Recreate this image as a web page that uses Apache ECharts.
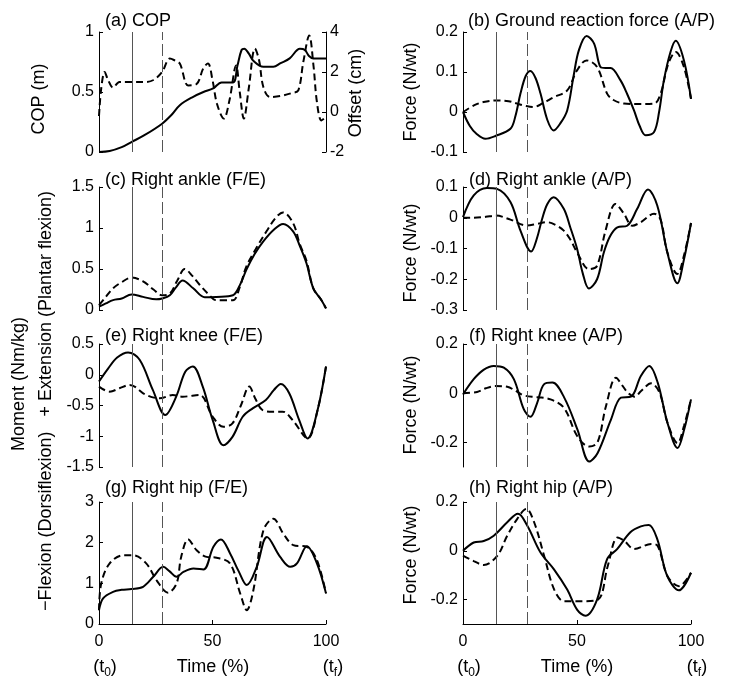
<!DOCTYPE html>
<html><head><meta charset="utf-8">
<script src="https://cdn.jsdelivr.net/npm/echarts@6/dist/echarts.min.js"></script>
<style>html,body{margin:0;padding:0;background:#fff}#c{width:729px;height:692px}</style>
</head><body><div id="c"></div>
<script>
// ---------- DATA ----------
const panelTitles = ['(a) COP','(b) Ground reaction force (A/P)','(c) Right ankle (F/E)','(d) Right ankle (A/P)',
  '(e) Right knee (F/E)','(f) Right knee (A/P)','(g) Right hip (F/E)','(h) Right hip (A/P)'];
const xTicks = [0, 50, 100];
const eventSolid = 14.5, eventDashed = 28;

const aSolidT = [0,4.7,10,14.3,20,27.8,32,35.6,41.5,46,50.3,54,59,61,62.8,64,66,68,72.4,76.8,80,84,88.5,90.7,92.5,94.4,100];
const aSolidY = [0,0.008,0.04,0.083,0.14,0.236,0.31,0.39,0.46,0.5,0.53,0.58,0.58,0.72,0.85,0.86,0.82,0.76,0.71,0.71,0.74,0.78,0.86,0.85,0.8,0.78,0.78];
const aDashT = [0,1,2.5,4,6.2,9,14,20,24,27.8,31.2,33,35.6,39.3,43,46,48,50,52,55,57.5,60.4,62,63.8,66,68.7,70.5,72.4,75.3,80,85,87.8,90,92.6,94.5,96,98,100];
const aDashY = [-0.2,1.2,2.0,1.6,1.22,1.5,1.5,1.5,1.6,2.0,2.67,2.6,2.42,1.33,1.4,2.2,2.42,1.6,0.4,-0.33,0.6,2.33,1.0,-0.33,1.2,3.17,2.6,1.25,0.75,0.8,0.95,1.08,2.5,3.83,2.3,0.5,-0.42,-0.25];

const bSolidT = [0,3,6,9.8,14.2,20.8,23,25.2,27.5,29.6,31.8,34,37,39.8,42.5,45.7,48.5,50.8,54.2,57.5,60.3,62.5,64.7,69.1,72,75,77.5,80.1,83.8,86,88.1,91,93.3,96.9,100];
const bSolidY = [0,-0.035,-0.055,-0.067,-0.06,-0.042,-0.01,0.046,0.09,0.1025,0.085,0.046,-0.02,-0.046,-0.03,0.004,0.09,0.154,0.19,0.171,0.1125,0.11,0.11,0.079,0.045,0.004,-0.035,-0.058,-0.05,0.0,0.079,0.15,0.178,0.129,0.033];
const bDashT = [0,5,9,15,20,23.7,27,31,35,39.8,45.7,50,54.2,58.8,63.2,66,70.6,76,83.8,86.7,90,93.3,96.9,100];
const bDashY = [0,0.017,0.025,0.029,0.027,0.021,0.016,0.0125,0.022,0.037,0.054,0.104,0.129,0.1125,0.046,0.03,0.021,0.02,0.021,0.046,0.12,0.15,0.1125,0.033];

const cSolidT = [0,3,6.2,10,14.3,19.4,25.2,27.8,31.2,34,36.8,41.5,46.6,51.7,59,62,64.9,68.5,72.3,77,81.1,85.5,88.5,91.4,94.4,98,100];
const cSolidY = [0.04,0.08,0.12,0.14,0.19,0.16,0.13,0.14,0.18,0.28,0.36,0.265,0.155,0.16,0.18,0.3,0.49,0.68,0.835,0.98,1.05,0.96,0.78,0.57,0.265,0.12,0.02];
const cDashT = [0,3,6.2,10,14.3,19.4,24,27.8,31.2,34.5,37.8,41,44.4,48,51.7,59,62,64.9,69,73.8,78,81.1,85.5,88.5,91.4,94.4,98,100];
const cDashY = [0.06,0.16,0.265,0.34,0.395,0.35,0.25,0.18,0.2,0.36,0.5,0.42,0.305,0.2,0.12,0.12,0.28,0.53,0.74,0.96,1.13,1.19,1.06,0.8,0.6,0.265,0.12,0.02];

const dSolidT = [0,4.7,10.5,14.9,20.8,25.2,29.9,32.3,34.7,37,39.8,44.2,47,50,52.5,55.2,58.8,61.8,64.5,67.7,72,76.4,81.1,85.2,89.6,94,96.9,100];
const dSolidY = [0.002,0.073,0.097,0.094,0.051,-0.042,-0.11,-0.07,-0.004,0.045,0.067,0.029,-0.03,-0.1,-0.18,-0.23,-0.2,-0.112,-0.06,-0.031,-0.026,0.029,0.092,0.04,-0.112,-0.213,-0.136,-0.017];
const dDashT = [0,4.7,10,14.3,20.8,27.7,32.5,36.9,41,44.2,47,50,55.2,58.8,62.5,66.9,70.6,74.2,77.9,83.8,86.7,89.6,94,97,100];
const dDashY = [0,0,0.003,0.007,-0.006,-0.025,-0.02,-0.0145,-0.025,-0.042,-0.07,-0.112,-0.167,-0.156,-0.042,0.045,0.013,-0.026,-0.015,0.013,-0.007,-0.112,-0.183,-0.12,-0.017];

const eSolidT = [0,4,8,12.8,17.9,23.7,29.2,34,38,41.3,45.7,50.1,54.8,58.8,63.3,67.7,73.5,77,80.1,83.8,88.2,91.9,96.3,100];
const eSolidY = [-0.11,0.1,0.28,0.363,0.243,-0.247,-0.655,-0.356,0.05,0.134,-0.193,-0.737,-1.146,-1.01,-0.683,-0.546,-0.41,-0.25,-0.149,-0.3,-0.737,-1.036,-0.573,0.134];
const eDashT = [0,4.7,9,13.5,20.8,26.7,32.5,36.9,44.2,50.1,54.8,58.8,62.5,66.2,69,72,76.5,80.9,85.3,91.9,96.3,100];
const eDashY = [-0.193,-0.275,-0.22,-0.165,-0.33,-0.383,-0.33,-0.356,-0.33,-0.683,-0.846,-0.79,-0.5,-0.193,-0.4,-0.573,-0.6,-0.6,-0.737,-1.036,-0.573,0.134];

const fSolidT = [0,4.7,9,13.5,17.9,22.3,26.7,29.6,32.5,35.5,39.2,44.4,50.2,55.4,59,64.9,69.3,73.7,78,81.7,85.4,89.7,94.1,97,100];
const fSolidY = [-0.005,0.057,0.095,0.111,0.104,0.057,-0.066,-0.096,-0.04,0.036,0.043,-0.018,-0.148,-0.278,-0.244,-0.107,-0.018,-0.014,0.07,0.111,0.043,-0.121,-0.223,-0.148,-0.025];
const fDashT = [0,6.2,10,14.2,19.4,23,26.7,32.5,38.4,44.3,50.2,55.4,59,62.7,67.1,70,72.3,75.3,78.1,82.5,86.2,89.7,94.1,97,100];
const fDashY = [0,0.005,0.02,0.029,0.026,0.01,-0.009,-0.016,-0.025,-0.06,-0.176,-0.217,-0.2,-0.053,0.063,0.03,0.002,-0.014,0.009,0.04,0.002,-0.121,-0.203,-0.13,-0.025];

const gSolidT = [0,1.8,6.2,10,14.3,19.4,23.9,28.3,31,34.2,37.2,41.6,46,50.4,53.7,57.8,61.5,65.1,69.5,74,79.8,84.3,87.2,91.6,96,100];
const gSolidY = [0.34,0.63,0.79,0.84,0.86,0.915,1.16,1.405,1.3,1.16,1.28,1.365,1.34,1.9,2.08,1.73,1.3,0.957,1.405,2.14,1.65,1.405,1.49,1.91,1.49,0.753];
const gDashT = [0,1,4.7,10.6,15,20.8,25.3,30.4,34.2,36.2,39.3,43,47.4,51.8,57.7,62.2,65.1,68,72.4,76.8,81.2,85.6,91.5,96,100];
const gDashY = [0.34,1.0,1.49,1.69,1.69,1.49,1.08,0.77,1.0,1.65,2.08,1.815,1.65,1.63,1.49,0.75,0.34,0.83,2.3,2.59,2.22,1.94,1.9,1.57,0.753];

const hSolidT = [0,4.7,9.1,13.5,19.4,24.1,28.2,34,39.9,45.7,50.1,53.7,58.8,63.2,67.6,73.4,78,81.5,85.2,89.6,94.7,100];
const hSolidY = [0,0.034,0.04,0.062,0.117,0.152,0.103,-0.007,-0.076,-0.159,-0.242,-0.266,-0.2,-0.034,0.007,0.076,0.1,0.106,0.048,-0.104,-0.162,-0.09];
const hDashT = [0,4.7,9.1,15,19.4,23.8,27.8,31.2,35.6,40,44.4,51.8,59.2,63.5,67.8,70.7,75.1,82.5,85.4,89.7,94.7,100];
const hDashY = [-0.02,-0.042,-0.058,-0.021,0.062,0.131,0.172,0.117,-0.021,-0.159,-0.207,-0.207,-0.2,-0.062,0.055,0.041,0.007,0.028,0.02,-0.104,-0.145,-0.09];

// y axis ranges [min, max, interval, customTicks]
const yRanges = [
  [0, 1, 0.5, null], [-0.1, 0.2, 0.1, null],
  [0, 1.5, 0.5, null], [-0.3, 0.1, 0.1, null],
  [-1.5, 0.5, 0.5, null], [-0.3, 0.2, 0.1, [-0.2, 0, 0.2]],
  [0, 3, 1, null], [-0.3, 0.2, 0.1, [-0.2, 0, 0.2]]
];
const offsetRange = [-2, 4, 2];

// ---------- LAYOUT ----------
const FONT = '"Liberation Sans", Arial, Helvetica, sans-serif';
const colLeft = [99, 463], colWidth = [227, 228];
const rowTop = [32, 187, 344, 502], rowHeight = [120, 123, 123, 122];

const pairs = (t, y) => t.map((v, i) => [v, y[i]]);
const panelData = [
  [pairs(aSolidT, aSolidY), pairs(aDashT, aDashY)],
  [pairs(bSolidT, bSolidY), pairs(bDashT, bDashY)],
  [pairs(cSolidT, cSolidY), pairs(cDashT, cDashY)],
  [pairs(dSolidT, dSolidY), pairs(dDashT, dDashY)],
  [pairs(eSolidT, eSolidY), pairs(eDashT, eDashY)],
  [pairs(fSolidT, fSolidY), pairs(fDashT, fDashY)],
  [pairs(gSolidT, gSolidY), pairs(gDashT, gDashY)],
  [pairs(hSolidT, hSolidY), pairs(hDashT, hDashY)]
];

const grids = [], xAxes = [], yAxes = [], series = [];
const axisLineStyle = () => ({show: true, onZero: false, lineStyle: {color: '#000', width: 1}});
for (let p = 0; p < 8; p++) {
  const col = p % 2, row = Math.floor(p / 2);
  grids.push({left: colLeft[col], top: rowTop[row], width: colWidth[col], height: rowHeight[row], containLabel: false});
  const bottom = row === 3;
  xAxes.push({
    type: 'value', gridIndex: p, min: 0, max: 100, interval: 50, show: bottom,
    axisLine: axisLineStyle(), splitLine: {show: false},
    axisTick: {show: true, inside: true, length: 4, lineStyle: {color: '#000'}},
    axisLabel: {show: true, fontSize: 16, color: '#000', fontFamily: FONT, margin: 10}
  });
  const r = yRanges[p];
  const ya = {
    type: 'value', gridIndex: p, min: r[0], max: r[1], interval: r[2],
    axisLine: axisLineStyle(), splitLine: {show: false},
    axisTick: {show: true, inside: true, length: 4, lineStyle: {color: '#000'}},
    axisLabel: {fontSize: 16, color: '#000', fontFamily: FONT, margin: 5}
  };
  if (r[3]) {
    ya.axisLabel.customValues = r[3];
    ya.axisTick.customValues = r[3];
  }
  yAxes.push(ya);
}
// offset axis for panel (a)
yAxes.push({
  type: 'value', gridIndex: 0, position: 'right', min: offsetRange[0], max: offsetRange[1], interval: offsetRange[2],
  axisLine: axisLineStyle(), splitLine: {show: false},
  axisTick: {show: true, inside: true, length: 4, lineStyle: {color: '#000'}},
  axisLabel: {fontSize: 16, color: '#000', fontFamily: FONT, margin: 4}
});

for (let p = 0; p < 8; p++) {
  series.push({
    type: 'line', xAxisIndex: p, yAxisIndex: p, data: panelData[p][0],
    smooth: 0.35, symbol: 'none', lineStyle: {color: '#000', width: 2},
    markLine: {
      silent: true, symbol: 'none', label: {show: false},
      data: [
        {xAxis: eventSolid, lineStyle: {color: '#555', width: 1, type: 'solid'}},
        {xAxis: eventDashed, lineStyle: {color: '#555', width: 1, type: [12, 4]}}
      ]
    }
  });
  series.push({
    type: 'line', xAxisIndex: p, yAxisIndex: p === 0 ? 8 : p, data: panelData[p][1],
    smooth: 0.35, symbol: 'none', lineStyle: {color: '#000', width: 2, type: [7, 4]}
  });
}

// ---------- TEXT ----------
const graphic = [];
const txt = (x, y, text, opts = {}) => graphic.push({
  type: 'text', x, y, rotation: opts.rot || 0,
  style: Object.assign({text, fill: '#000', font: (opts.size || 18) + 'px ' + FONT,
    align: opts.align || 'center', verticalAlign: 'middle'}, opts.style || {})
});
const titlePos = [[105, 21], [468, 21], [105, 180], [469, 180], [105, 336], [469, 336], [105, 488], [469, 488]];
panelTitles.forEach((t, i) => txt(titlePos[i][0], titlePos[i][1], t, {align: 'left'}));

const R = Math.PI / 2;
txt(39, 99, 'COP (m)', {rot: R});
txt(356, 93, 'Offset (cm)', {rot: R});
txt(411, 92, 'Force (N/wt)', {rot: R});
txt(411, 253, 'Force (N/wt)', {rot: R});
txt(411, 405, 'Force (N/wt)', {rot: R});
txt(411, 555, 'Force (N/wt)', {rot: R});
txt(19, 384, 'Moment (Nm/kg)', {rot: R});
txt(46, 401, '\u2212Flexion (Dorsiflexion)   + Extension (Plantar flexion)', {rot: R});

const subRich = {
  a: {fontSize: 18, fontFamily: FONT, fill: '#000'},
  s: {fontSize: 12, fontFamily: FONT, fill: '#000', padding: [12, 0, 0, 0]}
};
const bottomXs = [[105, 213, 333], [469, 577, 697]];
bottomXs.forEach(xs => {
  graphic.push({type: 'text', x: xs[0], y: 667, style: {text: '{a|(t}{s|0}{a|)}', rich: subRich, align: 'center', verticalAlign: 'middle'}});
  txt(xs[1], 667, 'Time (%)');
  graphic.push({type: 'text', x: xs[2], y: 667, style: {text: '{a|(t}{s|f}{a|)}', rich: subRich, align: 'center', verticalAlign: 'middle'}});
});

const chart = echarts.init(document.getElementById('c'), null, {renderer: 'canvas'});
chart.setOption({
  animation: false, backgroundColor: '#fff',
  grid: grids, xAxis: xAxes, yAxis: yAxes, series, graphic
});
</script></body></html>
